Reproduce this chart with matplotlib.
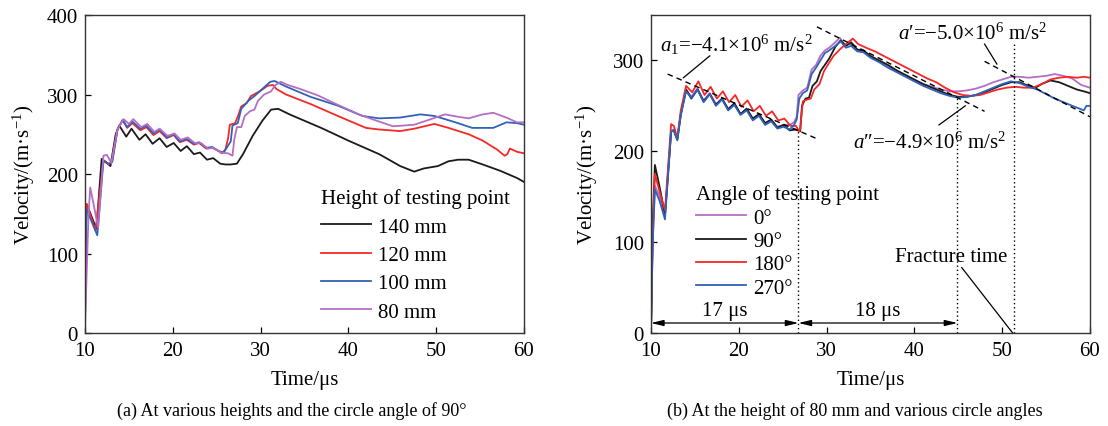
import matplotlib
matplotlib.use("Agg")
import matplotlib.pyplot as plt

plt.rcParams.update({
    'font.family': 'serif',
    'font.serif': ['Liberation Serif', 'DejaVu Serif'],
    'mathtext.fontset': 'custom',
    'mathtext.rm': 'Liberation Serif',
    'mathtext.it': 'Liberation Serif:italic',
    'mathtext.bf': 'Liberation Serif:bold',
    'font.size': 15,
    'axes.linewidth': 1.0,
    'axes.edgecolor': '#333333',
    'xtick.direction': 'in',
    'ytick.direction': 'in',
    'xtick.major.size': 4,
    'ytick.major.size': 4,
})

C_BLACK = '#1a1a1a'
C_RED = '#f52828'
C_BLUE = '#2f62b8'
C_PURPLE = '#b46ec4'

# ---- (a) heights, angle 90 deg ----
t_140 = [10.0, 10.1, 10.2, 11.3, 11.9, 12.5, 12.9, 13.5, 13.9, 14.7, 15.3, 16.2, 16.9, 17.7, 18.5, 19.3,
         20.1, 20.9, 21.6, 22.4, 23.1, 23.9, 24.6, 25.4, 26.0, 26.6, 27.3, 28.0, 29.1, 30.2, 31.2, 32.0,
         33.3, 36.9, 40.0, 43.5, 45.9, 47.5, 48.6, 50.2, 51.4, 52.5, 53.7, 55.3, 57.3, 59.2, 60.0]
v_140 = [5, 130, 162, 131, 219, 214, 210, 250, 261, 247, 257, 243, 250, 238, 245, 234,
         239, 229, 235, 225, 227, 218, 220, 213, 212, 212, 213, 225, 248, 267, 281, 282,
         275, 258, 242, 225, 210, 203, 207, 210, 216, 218, 218, 212, 204, 195, 190]

t_120 = [10.0, 10.1, 10.2, 11.2, 12.1, 12.7, 13.1, 13.7, 14.3, 14.8, 15.4, 16.3, 17.0, 17.8, 18.5, 19.3,
         20.1, 20.8, 21.6, 22.4, 23.0, 23.8, 24.5, 25.2, 25.6, 26.0, 26.3, 26.5, 27.1, 27.4, 27.8, 28.4,
         28.9, 29.9, 30.8, 31.4, 31.8, 32.9, 35.7, 38.8, 42.0, 43.5, 45.9, 47.5, 49.8, 51.4, 53.7, 55.3,
         56.9, 57.8, 58.1, 58.4, 59.2, 60.0]
v_120 = [20, 130, 162, 129, 217, 212, 216, 256, 268, 258, 264, 255, 259, 249, 254, 245,
         249, 240, 243, 237, 239, 232, 233, 229, 226, 231, 245, 262, 264, 272, 285, 289,
         298, 304, 311, 312, 307, 300, 288, 273, 258, 256, 254, 257, 263, 258, 250, 242,
         231, 223, 225, 232, 228, 226]

t_100 = [10.0, 10.1, 10.2, 11.4, 12.1, 12.7, 13.1, 13.7, 14.3, 14.8, 15.4, 16.3, 17.0, 17.8, 18.5, 19.3,
         20.1, 20.8, 21.6, 22.4, 23.0, 23.8, 24.5, 25.2, 25.8, 26.6, 26.8, 27.4, 27.8, 28.6, 29.3, 30.1,
         31.1, 31.6, 32.9, 35.7, 38.8, 41.6, 43.5, 45.9, 48.2, 49.8, 52.2, 54.1, 56.5, 58.0, 59.2, 60.0]
v_100 = [10, 120, 155, 123, 216, 213, 215, 256, 268, 259, 266, 257, 261, 251, 256, 246,
         250, 241, 244, 238, 240, 233, 234, 229, 227, 241, 261, 264, 282, 292, 298, 306,
         316, 317, 310, 297, 286, 273, 270, 271, 275, 273, 265, 258, 258, 265, 264, 262]

t_80 = [10.0, 10.4, 10.6, 11.5, 12.1, 12.5, 13.0, 13.7, 14.4, 15.0, 15.5, 16.4, 17.1, 17.9, 18.5, 19.4,
        20.2, 20.9, 21.7, 22.5, 23.2, 24.0, 24.6, 25.5, 26.3, 26.8, 27.0, 27.3, 27.8, 28.2, 28.8, 29.3,
        29.7, 30.4, 31.2, 31.7, 32.3, 33.1, 34.5, 36.5, 38.8, 41.2, 42.7, 45.1, 47.5, 49.4, 51.0, 52.5,
        53.7, 55.3, 56.5, 58.0, 59.2, 60.0]
v_80 = [8, 148, 183, 133, 223, 224, 214, 256, 269, 263, 269, 259, 263, 253, 257, 248,
        251, 243, 246, 239, 239, 232, 233, 227, 226, 223, 243, 259, 259, 273, 279, 281,
        292, 300, 304, 312, 316, 312, 307, 299, 287, 275, 269, 260, 262, 269, 275, 272,
        270, 275, 277, 271, 265, 265]

height_labels = ['140 mm', '120 mm', '100 mm', '80 mm']

# ---- (b) height 80 mm, angles ----
t_90 = [10.0, 10.2, 10.45, 11.0, 11.6, 12.3, 12.6, 13.0, 13.4, 14.0, 14.6, 15.3, 16.0, 16.7, 17.4, 18.1,
        18.8, 19.5, 20.2, 20.9, 21.6, 22.3, 23.0, 23.7, 24.4, 25.1, 25.8, 26.5, 27.0, 27.2, 27.6, 28.0,
        28.4, 28.9, 29.3, 29.8, 30.3, 31.0, 31.6, 32.2, 32.8, 33.5, 34.2, 35, 36, 37, 38, 39, 40, 41,
        42, 43, 44, 45, 46, 47, 48, 49, 50, 51, 52, 53, 53.8, 54.5, 55.5, 56.5, 57.5, 58.5, 59.3, 60]
v_90 = [0, 120, 185, 160, 130, 222, 223, 213, 240, 268, 258, 268, 255, 263, 251, 258,
        246, 253, 241, 247, 236, 241, 231, 235, 226, 229, 223, 224, 222, 250, 258, 259,
        272, 277, 288, 295, 302, 315, 322, 316, 320, 312, 311, 305, 300, 295, 289, 284, 279, 274,
        270, 266, 262, 260, 260, 262, 265, 269, 273, 276, 276, 272, 270, 274, 278, 276, 272, 268, 266, 264]

t_180 = [10.0, 10.2, 10.45, 11.0, 11.6, 12.3, 12.6, 13.0, 13.4, 14.0, 14.7, 15.4, 16.1, 16.8, 17.5, 18.2,
         18.9, 19.6, 20.3, 21.0, 21.7, 22.4, 23.1, 23.8, 24.5, 25.2, 25.9, 26.5, 26.9, 27.0, 27.3, 27.8,
         28.2, 28.6, 29.2, 29.7, 30.2, 30.8, 31.5, 32.2, 33.0, 33.6, 34.5, 35.5, 36.5, 37.5, 38.5, 39.5,
         40.5, 41.5, 42.5, 43.5, 44.5, 45.5, 46.5, 47.5, 48.5, 49.5, 50.5, 51.5, 52.5, 53.5, 54.5, 55.5,
         56.5, 57.5, 58.5, 59.3, 60]
v_180 = [0, 110, 175, 155, 135, 230, 228, 215, 245, 272, 265, 277, 262, 271, 258, 266,
         254, 262, 249, 256, 244, 250, 239, 244, 234, 236, 228, 228, 222, 225, 255, 257,
         258, 268, 274, 288, 296, 305, 312, 318, 324, 318, 314, 310, 305, 300, 295, 290,
         285, 280, 276, 270, 265, 262, 261, 262, 265, 268, 270, 271, 270, 270, 274, 279,
         281, 282, 281, 282, 281]

t_270 = [10.0, 10.2, 10.45, 11.0, 11.6, 12.3, 12.6, 13.0, 13.4, 14.0, 14.6, 15.3, 16.0, 16.7, 17.4, 18.1,
         18.8, 19.5, 20.2, 20.9, 21.6, 22.3, 23.0, 23.7, 24.4, 25.1, 25.8, 26.3, 26.6, 26.9, 27.3, 27.8,
         28.3, 28.8, 29.3, 29.8, 30.3, 31.0, 31.6, 32.2, 32.8, 33.5, 34.2, 35, 36, 37, 38, 39, 40, 41,
         42, 43, 44, 45, 46, 47, 48, 49, 50, 51, 52, 53, 54, 55, 56, 57, 58, 58.8, 59.3, 59.6, 60]
v_270 = [0, 100, 158, 145, 125, 222, 223, 212, 240, 266, 259, 268, 254, 263, 250, 257,
         245, 251, 240, 245, 234, 239, 229, 233, 225, 227, 224, 229, 235, 258, 264, 267,
         285, 292, 300, 308, 311, 316, 321, 314, 316, 310, 309, 303, 298, 292, 287, 282, 277, 272,
         268, 264, 261, 259, 260, 262, 266, 270, 274, 277, 275, 271, 268, 263, 258, 254, 250, 247, 245, 250, 250]

t_0 = [10.0, 10.2, 10.45, 11.0, 11.6, 12.3, 12.6, 13.0, 13.4, 14.0, 14.6, 15.3, 16.0, 16.7, 17.4, 18.1,
       18.8, 19.5, 20.2, 20.9, 21.6, 22.3, 23.0, 23.7, 24.4, 25.1, 25.8, 26.3, 26.6, 26.8, 27.3, 27.8,
       28.3, 28.8, 29.3, 29.8, 30.3, 31.0, 31.5, 32.1, 32.7, 33.4, 34.1, 35, 36, 37, 38, 39, 40, 41,
       42, 43, 44, 45, 46, 47, 48, 49, 50, 51, 52, 53, 54, 55, 56, 57, 58, 59, 60]
v_0 = [0, 100, 162, 150, 130, 222, 224, 213, 242, 268, 260, 269, 256, 264, 252, 258,
       247, 252, 241, 246, 236, 240, 231, 234, 227, 229, 229, 232, 238, 262, 267, 270,
       290, 295, 305, 311, 314, 320, 325, 317, 318, 311, 310, 304, 299, 293, 288, 283, 278, 274,
       271, 268, 266, 266, 267, 269, 272, 276, 279, 282, 282, 281, 282, 283, 285, 283, 280, 273, 270]

angle_labels = ['0°', '90°', '180°', '270°']

# guide lines: (t0, v0, t1, v1)
slope_a1 = (11.9, 285, 29.1, 213)
slope_a2 = (28.9, 337, 48.0, 244)
slope_a3 = (48.0, 299, 60.0, 238)
mark_times = [26.8, 44.9, 51.3]
mark_tops = [222, 260, 318]

fig = plt.figure(figsize=(11.08, 4.27), dpi=100)
ax1 = fig.add_axes([0.0767, 0.2178, 0.3962, 0.7447])
ax2 = fig.add_axes([0.5875, 0.2178, 0.3962, 0.7447])

lw = 1.3
# panel (a)
ax1.plot(t_140, v_140, color=C_BLACK, lw=lw, label=height_labels[0])
ax1.plot(t_120, v_120, color=C_RED, lw=lw, label=height_labels[1])
ax1.plot(t_100, v_100, color=C_BLUE, lw=lw, label=height_labels[2])
ax1.plot(t_80, v_80, color=C_PURPLE, lw=lw, label=height_labels[3])
ax1.set_xlim(10, 60)
ax1.set_ylim(0, 400)
ax1.set_xticks([10, 20, 30, 40, 50, 60])
ax1.set_yticks([0, 100, 200, 300, 400])
ax1.set_xlabel('Time/μs', labelpad=7)
ax1.set_ylabel(r'Velocity/(m·s$^{-1}$)', labelpad=7)
leg1 = ax1.legend(title='Height of testing point', loc='upper left',
                  bbox_to_anchor=(36.9, 182), bbox_transform=ax1.transData,
                  frameon=False, fontsize=15, title_fontsize=15, handlelength=2.4,
                  handletextpad=0.35, labelspacing=0.42, borderpad=0, borderaxespad=0,
                  alignment='left')

# panel (b)
ax2.plot(t_0, v_0, color=C_PURPLE, lw=lw, label=angle_labels[0])
ax2.plot(t_90, v_90, color=C_BLACK, lw=lw, label=angle_labels[1])
ax2.plot(t_180, v_180, color=C_RED, lw=lw, label=angle_labels[2])
ax2.plot(t_270, v_270, color=C_BLUE, lw=lw, label=angle_labels[3])
ax2.set_xlim(10, 60)
ax2.set_ylim(0, 350)
ax2.set_xticks([10, 20, 30, 40, 50, 60])
ax2.set_yticks([0, 100, 200, 300])
ax2.set_xlabel('Time/μs', labelpad=7)
ax2.set_ylabel(r'Velocity/(m·s$^{-1}$)', labelpad=9)
leg2 = ax2.legend(title='Angle of testing point', loc='upper left',
                  bbox_to_anchor=(15.1, 163.5), bbox_transform=ax2.transData,
                  frameon=False, fontsize=15, title_fontsize=15, handlelength=2.4,
                  handletextpad=0.35, labelspacing=0.18, borderpad=0, borderaxespad=0,
                  alignment='left')

for s in (slope_a1, slope_a2, slope_a3):
    ax2.plot([s[0], s[2]], [s[1], s[3]], color='black', lw=1.0, ls=(0, (4, 3)))
for tm, top in zip(mark_times, mark_tops):
    ax2.plot([tm, tm], [0, top], color='black', lw=1.0, ls=(0, (1, 2)))

ax2.text(11.0, 318, r'$a_1$=−4.1×10$^6$ m/s$^2$', ha='left', va='center', fontsize=15)
ax2.plot([16.7, 13.7], [305, 281], color='black', lw=0.9)
ax2.text(46.6, 330, r'$a$′=−5.0×10$^6$ m/s$^2$', ha='center', va='center', fontsize=15)
ax2.plot([48.0, 49.4], [318, 296], color='black', lw=0.9)
ax2.text(41.8, 210, r'$a$″=−4.9×10$^6$ m/s$^2$', ha='center', va='center', fontsize=15)
ax2.plot([42.8, 45.8], [229, 250], color='black', lw=0.9)
ax2.text(44.2, 84, 'Fracture time', ha='center', va='center', fontsize=15)
ax2.plot([45.4, 51.2], [72, 0], color='black', lw=0.9)

arrow = dict(arrowstyle='<|-|>,head_length=0.5,head_width=0.12', color='black', lw=0.9,
             shrinkA=0, shrinkB=0)
ax2.annotate('', xy=(10.0, 11), xytext=(mark_times[0], 11), arrowprops=arrow)
ax2.annotate('', xy=(mark_times[0], 11), xytext=(mark_times[1], 11), arrowprops=arrow)
ax2.text(18.4, 25, '17 μs', ha='center', va='center', fontsize=15)
ax2.text(35.8, 25, '18 μs', ha='center', va='center', fontsize=15)

for ax in (ax1, ax2):
    ax.tick_params(axis='both', labelsize=15, width=0.9)
    ax.tick_params(axis='x', pad=6)
    ax.tick_params(axis='y', pad=5)

fig.text(0.2635, 0.037, '(a) At various heights and the circle angle of 90°',
         ha='center', va='center', fontsize=13)
fig.text(0.7717, 0.037, '(b) At the height of 80 mm and various circle angles',
         ha='center', va='center', fontsize=13)

fig.savefig('out.png', dpi=100)
